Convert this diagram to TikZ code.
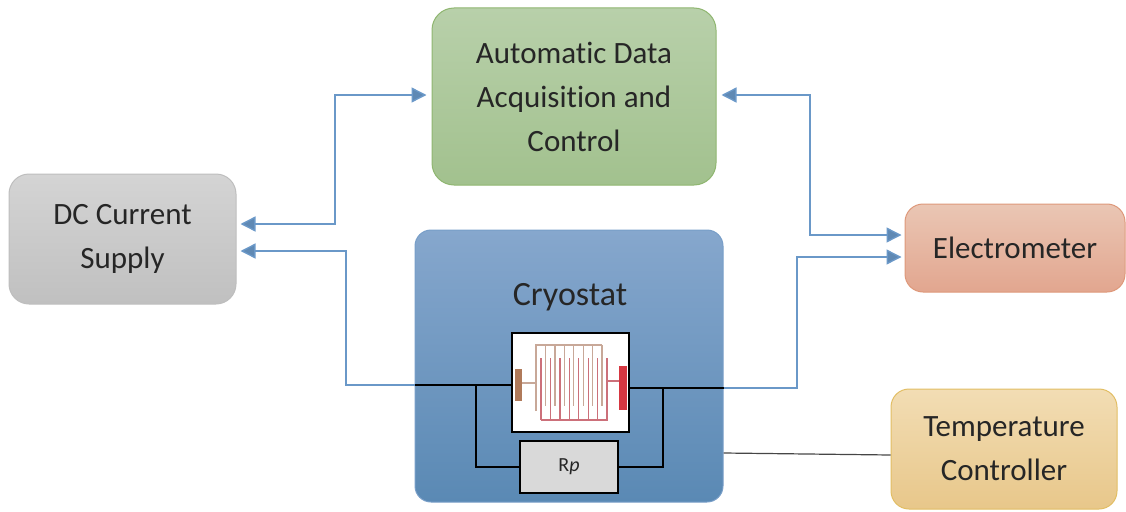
\documentclass[tikz,border=0pt]{standalone}
\usepackage{fontspec}
\setmainfont{Carlito}[Ligatures=NoCommon]
\usetikzlibrary{arrows.meta}
\definecolor{txt}{RGB}{38,38,38}
\definecolor{link}{RGB}{106,152,200}
\definecolor{tanfinger}{RGB}{200,168,152}
\definecolor{redfinger}{RGB}{204,112,122}
\definecolor{padbrown}{RGB}{176,122,90}
\definecolor{padred}{RGB}{214,55,65}
\tikzset{
  block/.style={rounded corners=22pt, line width=1pt, align=center, text=txt,
    font=\fontsize{31}{44}\selectfont, inner sep=0pt},
  linkarrow/.style={draw=link, line width=1.4pt,
    arrows={-Triangle[length=15pt,width=15pt,fill=link!90!black]}},
  linkboth/.style={draw=link, line width=1.4pt,
    arrows={Triangle[length=15pt,width=15pt,fill=link!90!black]-Triangle[length=15pt,width=15pt,fill=link!90!black]}},
  wire/.style={draw=black, line width=1.5pt},
}
\begin{document}
\begin{tikzpicture}[x=1pt,y=-1pt]
\useasboundingbox (0,0) rectangle (1126,511);

% main blocks
\node[block, draw={rgb,255:red,143;green,182;blue,112}, top color={rgb,255:red,184;green,208;blue,170},
  bottom color={rgb,255:red,162;green,193;blue,142}, minimum width=284pt, minimum height=177pt]
  (adac) at (574,96.5) {Automatic Data\\Acquisition and\\Control};
\node[block, rounded corners=20pt, draw={rgb,255:red,190;green,190;blue,190}, top color={rgb,255:red,212;green,212;blue,212},
  bottom color={rgb,255:red,192;green,192;blue,192}, minimum width=227pt, minimum height=130pt]
  (dcs) at (122.5,239) {DC Current\\Supply};
\node[block, rounded corners=16pt, draw={rgb,255:red,120;green,158;blue,200}, top color={rgb,255:red,134;green,167;blue,205},
  bottom color={rgb,255:red,90;green,137;blue,180}, minimum width=308pt, minimum height=272pt]
  (cryo) at (569,366) {};
\node[block, rounded corners=18pt, draw={rgb,255:red,222;green,152;blue,122}, top color={rgb,255:red,234;green,198;blue,180},
  bottom color={rgb,255:red,226;green,166;blue,143}, minimum width=220pt, minimum height=88pt]
  (elec) at (1015,248) {Electrometer};
\node[block, rounded corners=18pt, draw={rgb,255:red,226;green,190;blue,100}, top color={rgb,255:red,242;green,221;blue,180},
  bottom color={rgb,255:red,232;green,199;blue,138}, minimum width=226pt, minimum height=120pt]
  (tc) at (1004,449) {Temperature\\Controller};

\node[text=txt, font=\fontsize{34}{40}\selectfont, inner sep=0pt] (cryolbl) at (570,297) {Cryostat};

% sample holder and parallel resistor
\node[draw=black, line width=1.3pt, fill=white, minimum width=117pt, minimum height=99pt, inner sep=0pt]
  (sensor) at (570.5,382.5) {};
\node[draw=black, line width=1.3pt, fill={rgb,255:red,217;green,217;blue,217}, minimum width=98pt, minimum height=52pt,
  inner sep=0pt, text=txt, font=\fontsize{20}{22}\selectfont] (rp) at (569,467) {R\textit{p}};

% interdigitated electrodes
\begin{scope}[line width=1.3pt]
  \draw[tanfinger] (536,411) -- (536,345) -- (602,345);
  \foreach \i in {1,...,7} \draw[tanfinger] (536+9.43*\i,345) -- (536+9.43*\i,406);
  \draw[tanfinger] (522,383) -- (536,383);
  \draw[redfinger] (607,358) -- (607,420) -- (541,420);
  \foreach \i in {0,...,6} \draw[redfinger] (541+9.43*\i,420) -- (541+9.43*\i,358);
  \draw[redfinger] (607,381) -- (619,381);
\end{scope}
\fill[padbrown] (515,369) rectangle (522,401);
\fill[padred] (619,366) rectangle (627,410);

% wiring inside the cryostat
\draw[wire] (cryo.west |- 0,385) -- (sensor.west |- 0,385);
\draw[wire] (sensor.east |- 0,388) -- (cryo.east |- 0,388);
\draw[wire] (476,385) |- (rp.west);
\draw[wire] (663,388) |- (rp.east);

% signal links
\draw[linkboth, shorten <=4pt, shorten >=5pt] (dcs.east |- 0,224) -- (335,224) -- (335,95) -- (adac.west |- 0,95);
\draw[linkarrow, shorten >=4pt] (cryo.west |- 0,385) -- (346,385) -- (346,251) -- (dcs.east |- 0,251);
\draw[linkboth, shorten <=5pt, shorten >=3pt] (adac.east |- 0,95) -- (810,95) -- (810,235) -- (elec.west |- 0,235);
\draw[linkarrow, shorten >=3pt] (cryo.east |- 0,388) -- (797,388) -- (797,257) -- (elec.west |- 0,257);
\draw[line width=1.2pt, draw={rgb,255:red,70;green,70;blue,70}] (cryo.east |- 0,453) -- (tc.west |- 0,455);
\end{tikzpicture}
\end{document}
